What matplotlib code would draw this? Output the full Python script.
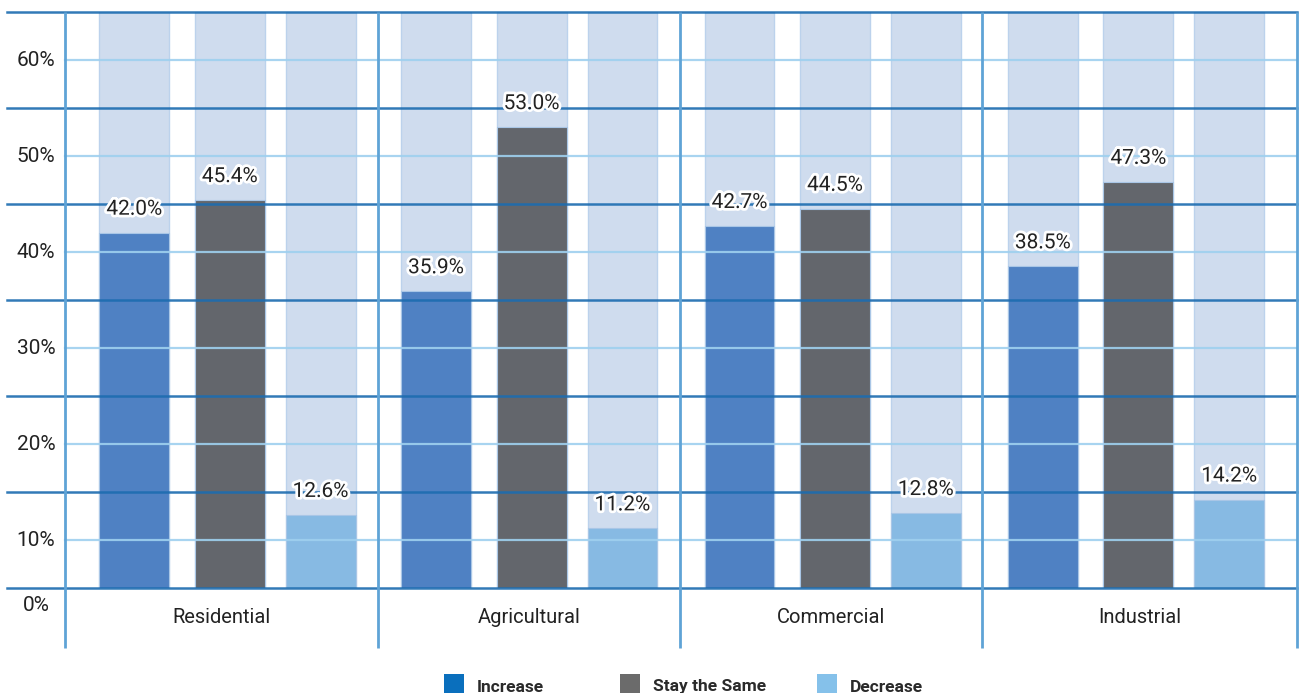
import matplotlib.pyplot as plt
import matplotlib.patheffects as pe
from matplotlib.patches import Rectangle
import numpy as np

plt.rcParams['font.family'] = ['Roboto', 'DejaVu Sans']

# datos del grafico
categories = ['Residential', 'Agricultural', 'Commercial', 'Industrial']
series = ['Increase', 'Stay the Same', 'Decrease']
increase = [42.0, 35.9, 42.7, 38.5]
stay_same = [45.4, 53.0, 44.5, 47.3]
decrease = [12.6, 11.2, 12.8, 14.2]
ytick_values = [10, 20, 30, 40, 50, 60]
ytick_labels = ['10%', '20%', '30%', '40%', '50%', '60%']

bar_colors = ['#4f81c3', '#63666c', '#87bae3']
legend_colors = ['#0a6fbd', '#6b6b6b', '#85c1ea']
back_color = '#cfdcee'
dark_line = '#1c6cb0'
light_line = '#9fd0ef'
sep_line = '#5fa3d6'

W, H = 1309, 693
fig = plt.figure(figsize=(W / 100, H / 100), dpi=100)
ax = fig.add_axes([65 / W, 1 - 588 / H, 1232 / W, 576 / H])
ax.set_xlim(0, 4)
ax.set_ylim(5, 65)
ax.axis('off')

# posiciones de los grupos y separadores
group_x = np.array([0.535, 1.515, 2.5, 3.485])
offsets = [-0.31, 0.0, 0.295]
seps = [0, 1.016, 1.997, 2.977, 4]
width = 0.227
values = [increase, stay_same, decrease]

for k in range(3):
    xs = group_x + offsets[k]
    # barra de fondo
    ax.bar(xs, 65, width=width, bottom=0, color=back_color,
           edgecolor='#bcd2ec', linewidth=1, zorder=1)
    ax.bar(xs, values[k], width=width, bottom=0, color=bar_colors[k],
           edgecolor='#a9c6e6', linewidth=0.8, zorder=2)
    for xi, v in zip(xs, values[k]):
        ax.annotate(f'{v:.1f}%', (xi, v), xytext=(0, 17), textcoords='offset points',
                    ha='center', va='center', fontsize=15, color='#222222', zorder=5,
                    path_effects=[pe.withStroke(linewidth=4, foreground='white')])

# lineas de la grilla (encima de las barras)
trans = ax.get_yaxis_transform()
for yv in range(5, 70, 5):
    if yv % 10 == 5:
        ax.plot([-0.047, 1.0], [yv, yv], transform=trans, color=dark_line, lw=1.8,
                alpha=0.9, zorder=4, clip_on=False)
    else:
        ax.plot([0.0, 1.0], [yv, yv], transform=trans, color=light_line, lw=1.6,
                alpha=0.9, zorder=4, clip_on=False)

# separadores verticales
ax.vlines(seps, -1.25, 65, color=sep_line, lw=2, zorder=4, clip_on=False)

# etiquetas del eje y
for yv, lab in zip(ytick_values, ytick_labels):
    ax.text(-0.0235, yv, lab, transform=trans, ha='center', va='center',
            fontsize=15, color='#222222')
ax.text(-0.0235, 3.2, '0%', transform=trans, ha='center', va='center',
        fontsize=15, color='#222222', clip_on=False)

# etiquetas de categorias
for i, cat in enumerate(categories):
    xc = (seps[i] + seps[i + 1]) / 2
    ax.text(xc, 1.95, cat, ha='center', va='center', fontsize=14.5, color='#222222',
            clip_on=False)

# leyenda manual
leg_sq = [444, 620, 817]
for xs0, lab, col in zip(leg_sq, series, legend_colors):
    fig.patches.append(Rectangle((xs0 / W, 0), 20 / W, 19 / H, transform=fig.transFigure,
                                 facecolor=col, edgecolor='none'))
    fig.text((xs0 + 33) / W, 1.5 / H, lab, ha='left', va='baseline', fontsize=12.5,
             fontweight='bold', color='#2a2a2a')

fig.savefig('out.png', dpi=100)
